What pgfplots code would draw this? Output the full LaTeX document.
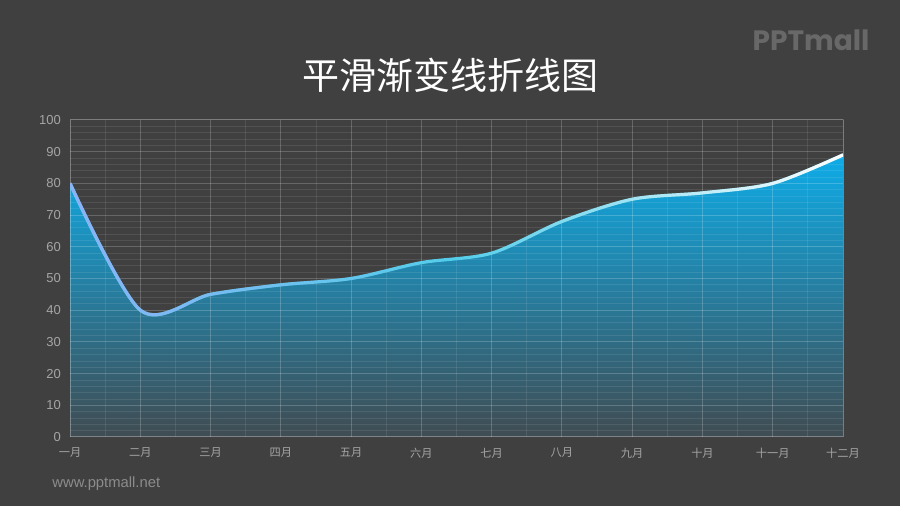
\documentclass[border=0pt]{standalone}
\usepackage{fontspec}
\setmainfont{Noto Sans CJK SC}
\newfontfamily\latinfont{Liberation Sans}
\newfontfamily\logofont{Poppins}
\usepackage{pgfplots}
\usepackage{pgfplotstable}
\pgfplotsset{compat=1.18}
\usetikzlibrary{fadings}

\definecolor{bg}{RGB}{64,64,64}
\definecolor{tick}{RGB}{165,165,165}
\definecolor{logo}{RGB}{104,104,104}
\definecolor{wm}{RGB}{140,140,140}
\definecolor{fillt}{RGB}{14,172,232}
\definecolor{fillm}{RGB}{36,130,165}
\definecolor{fillb}{RGB}{64,76,82}
\definecolor{linecyan}{RGB}{84,206,234}
\definecolor{linelav}{RGB}{140,178,246}

% middle color has to come last, left/right color reset it
\tikzfading[name=lavfade, left color=transparent!0, right color=transparent!100, middle color=transparent!100]
\tikzfading[name=whitefade, left color=transparent!100, right color=transparent!0, middle color=transparent!100]

\pgfplotsset{
  layers/withpage/.define layer set={pagebg,axis background,axis grid,axis ticks,axis lines,axis tick labels,pre main,main,axis descriptions,axis foreground}{},
}

\pgfplotstableread{
x y
0 80
1 40
2 45
3 48
4 50
5 55
6 58
7 68
8 75
9 77
10 80
11 89
}\sales

\begin{document}
\begin{tikzpicture}
\pgfplotsset{set layers=withpage}
\begin{pgfonlayer}{pagebg}
\fill[bg] (0,0) rectangle (450pt,253pt);
\end{pgfonlayer}
\node[font=\fontsize{18.5}{20}\selectfont, text=white] at (225pt,215.5pt) {平滑渐变线折线图};
\node[font=\logofont\bfseries\fontsize{14}{14}\selectfont, text=logo] at (405.5pt,233pt) {PPTmall};
\node[anchor=west, inner sep=0pt, font=\latinfont\fontsize{7.4}{8}\selectfont, text=wm] at (26pt,11pt) {www.pptmall.net};

\begin{axis}[
  set layers=withpage,
  at={(35pt,34.5pt)}, anchor=south west,
  scale only axis, width=386.5pt, height=158.5pt,
  xmin=0, xmax=11, ymin=0, ymax=100,
  xtick={0,...,11},
  xticklabels={一月,二月,三月,四月,五月,六月,七月,八月,九月,十月,十一月,十二月},
  ytick={0,10,...,100},
  minor x tick num=1, minor y tick num=4,
  grid=both,
  major grid style={white, opacity=0.2, line width=0.5pt},
  minor grid style={white, opacity=0.09, line width=0.4pt},
  major tick length=0pt, minor tick length=0pt,
  axis line style={draw=white, opacity=0.15, line width=0.5pt},
  /pgf/number format/assume math mode=true,
  yticklabel style={font=\latinfont\fontsize{6.5}{7}\selectfont, text=tick, xshift=-1pt},
  xticklabel style={font=\fontsize{5.6}{6}\selectfont, text=tick, yshift=-2pt},
]
\addplot[draw=none, smooth, top color=fillt, middle color=fillm, bottom color=fillb,
  on layer=axis background] table {\sales} \closedcycle;
\addplot[smooth, line width=1.6pt, color=linecyan] table {\sales};
\addplot[smooth, line width=1.6pt, color=linelav, path fading=lavfade] table {\sales};
\addplot[smooth, line width=1.6pt, color=white, path fading=whitefade] table {\sales};
\end{axis}
\pgfresetboundingbox
\useasboundingbox (0,0) rectangle (450pt,253pt);
\end{tikzpicture}
\end{document}
